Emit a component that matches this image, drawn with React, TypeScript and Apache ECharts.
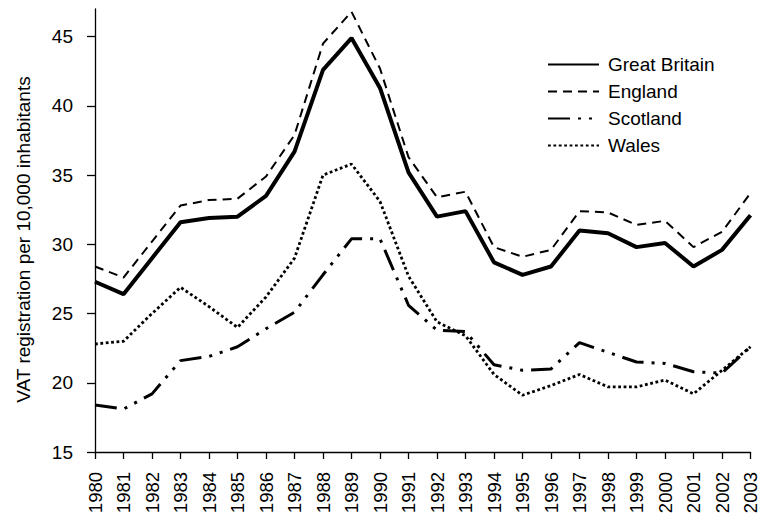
import React, { useEffect, useRef } from "react";
import * as echarts from "echarts";

const years = ["1980","1981","1982","1983","1984","1985","1986","1987","1988","1989","1990","1991","1992","1993","1994","1995","1996","1997","1998","1999","2000","2001","2002","2003"];
const greatBritain = [27.3,26.4,29.0,31.6,31.9,32.0,33.5,36.7,42.6,44.9,41.3,35.2,32.0,32.4,28.7,27.8,28.4,31.0,30.8,29.8,30.1,28.4,29.6,32.1];
const england = [28.4,27.6,30.2,32.8,33.2,33.3,34.9,37.9,44.5,46.8,42.7,36.3,33.4,33.8,29.8,29.1,29.6,32.4,32.3,31.4,31.7,29.8,30.9,33.7];
const scotland = [18.4,18.1,19.2,21.6,21.9,22.6,23.9,25.1,27.8,30.4,30.4,25.6,23.8,23.7,21.3,20.9,21.0,22.9,22.2,21.5,21.4,20.8,20.7,22.6];
const wales = [22.8,23.0,25.0,26.9,25.5,24.0,26.2,29.0,35.0,35.8,33.1,27.7,24.4,23.4,20.6,19.1,19.8,20.6,19.7,19.7,20.2,19.2,20.9,22.6];
const yTicks = [15,20,25,30,35,40,45];

const FONT = "Liberation Sans, Arial, Helvetica, sans-serif";

export default function App() {
  const ref = useRef<HTMLDivElement>(null);
  useEffect(() => {
    if (!ref.current) return;
    const chart = echarts.init(ref.current, undefined, { renderer: "svg" });
    const mk = (name: string, data: number[], width: number, type: any) => ({
      name,
      type: "line",
      data,
      symbol: "none",
      showSymbol: false,
      lineStyle: { color: "#000", width, type, cap: "butt" },
      itemStyle: { color: "#000" },
    });
    chart.setOption({
      animation: false,
      backgroundColor: "#fff",
      textStyle: { fontFamily: FONT, color: "#000" },
      grid: { left: 95, right: 8, top: 9, bottom: 66, containLabel: false },
      legend: {
        orient: "vertical",
        left: 547,
        top: 55,
        padding: 0,
        itemWidth: 51,
        itemHeight: 14,
        itemGap: 8,
        itemStyle: { color: "transparent", borderWidth: 0, opacity: 0 },
        textStyle: { fontSize: 19, lineHeight: 19, fontFamily: FONT, color: "#000", padding: [0, 0, 0, 4] },
        data: ["Great Britain", "England", "Scotland", "Wales"],
      },
      xAxis: {
        type: "category",
        data: years,
        boundaryGap: false,
        axisLine: { lineStyle: { color: "#000", width: 1.3 } },
        axisTick: { show: true, length: 7, inside: false, alignWithLabel: true, lineStyle: { color: "#000", width: 1.3 } },
        axisLabel: { rotate: 90, interval: 0, margin: 20, fontSize: 18.5, color: "#000", fontFamily: FONT },
        splitLine: { show: false },
      },
      yAxis: {
        type: "value",
        min: 15,
        max: 47,
        interval: 5,
        name: "VAT registration per 10,000 inhabitants",
        nameLocation: "middle",
        nameRotate: 90,
        nameGap: 62,
        nameTextStyle: { fontSize: 19, color: "#000", fontFamily: FONT, padding: [0, 18, 0, 0] },
        axisLine: { show: true, lineStyle: { color: "#000", width: 1.3 } },
        axisTick: { show: true, length: 8, customValues: yTicks, lineStyle: { color: "#000", width: 1.3 } },
        axisLabel: { customValues: yTicks, margin: 22, fontSize: 19, color: "#000", fontFamily: FONT },
        splitLine: { show: false },
      },
      series: [
        mk("Great Britain", greatBritain, 4, "solid"),
        mk("England", england, 2, [9, 6]),
        mk("Scotland", scotland, 3, [22, 8, 3, 8, 3, 8]),
        mk("Wales", wales, 2.8, [2.8, 2.6]),
      ],
    });
    return () => chart.dispose();
  }, []);
  return <div ref={ref} style={{ width: 760, height: 518, position: "absolute", left: 0, top: 0 }} />;
}
